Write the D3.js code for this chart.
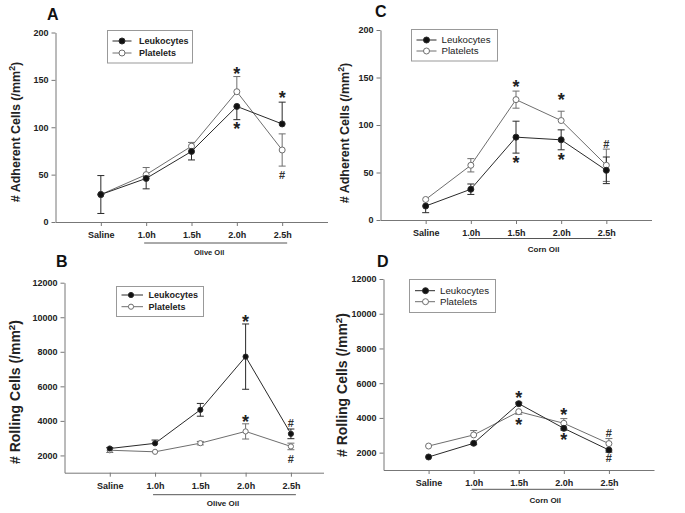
<!DOCTYPE html>
<html>
<head>
<meta charset="utf-8">
<script src="https://cdn.jsdelivr.net/npm/d3@7"></script>
<style>
  html, body { margin: 0; padding: 0; background: #fff; }
  svg { display: block; }
  text { font-family: "Liberation Sans", Arial, sans-serif; }
</style>
</head>
<body>
<svg id="chart" width="685" height="513"></svg>
<script>
// ---------------- DATA ----------------
const categories = ["Saline", "1.0h", "1.5h", "2.0h", "2.5h"];
const seriesNames = ["Leukocytes", "Platelets"];
const adherentTicks = [0, 50, 100, 150, 200];
const rollingTicks = [2000, 4000, 6000, 8000, 10000, 12000];

// Panel A: adherent cells, olive oil
const A_leuk = [29, 46, 74.5, 122, 103.5];
const A_leukErr = [20, 11, 9, 14, 23];
const A_leukDir = [0, -1, -1, -1, 1];
const A_plat = [29, 50, 80, 137.5, 76];
const A_platErr = [0, 7.5, 4, 16, 17];
const A_platDir = [0, 1, 1, 1, 0];
const A_marks = [[3, 161, "*"], [3, 102.5, "*"], [4, 135, "*"], [4, 49.6, "#"]];

// Panel B: rolling cells, olive oil
const B_leuk = [2400, 2700, 4640, 7720, 3250];
const B_leukErr = [60, 190, 370, 1890, 280];
const B_leukDir = [1, 1, 0, 0, 0];
const B_plat = [2300, 2210, 2710, 3390, 2520];
const B_platErr = [130, 0, 100, 440, 190];
const B_platDir = [-1, 0, 0, 0, 0];
const B_marks = [[3, 10000, "*"], [3, 4200, "*"], [4, 3870, "#"], [4, 1790, "#"]];

// Panel C: adherent cells, corn oil
const C_leuk = [14.7, 32.4, 87.2, 84.4, 52.3];
const C_leukErr = [7, 5.5, 16.8, 10.5, 14];
const C_leukDir = [-1, 0, 0, 0, 0];
const C_plat = [21.6, 57.6, 126.7, 104.7, 57.6];
const C_platErr = [0, 7, 9, 9.8, 17];
const C_platDir = [0, 0, 0, 1, 0];
const C_marks = [[2, 145, "*"], [2, 64.5, "*"], [3, 131, "*"], [3, 67.3, "*"], [4, 80.3, "#"]];

// Panel D: rolling cells, corn oil
const D_leuk = [1750, 2540, 4820, 3400, 2150];
const D_leukErr = [0, 80, 80, 100, 120];
const D_leukDir = [0, -1, 1, -1, -1];
const D_plat = [2380, 3020, 4360, 3690, 2520];
const D_platErr = [0, 250, 150, 270, 290];
const D_platDir = [0, 1, -1, 1, 1];
const D_marks = [[2, 5400, "*"], [2, 3820, "*"], [3, 4440, "*"], [3, 2960, "*"], [4, 3150, "#"], [4, 1710, "#"]];

// ---------------- LAYOUT ----------------
const svg = d3.select("#chart");
const LEUK_COLOR = "#2a2a2a";
const PLAT_COLOR = "#6e6e6e";
const AXIS_COLOR = "#777";

const panels = [
  { id: "A", group: "Olive Oil", ytitle: "# Adherent Cells (/mm", yTitleSize: 12.5, ticks: adherentTicks, yDom: [0, 200],
    x0: 55.5, x1: 327.5, xDomMax: 5, yBottom: 222, yTop: 32.5,
    leuk: A_leuk, leukErr: A_leukErr, leukDir: A_leukDir, plat: A_plat, platErr: A_platErr, platDir: A_platDir, marks: A_marks,
    letter: [47, 20], ytitlePos: [20, 132], underlineDy: 21, groupDy: 33, groupDx: -5, groupSize: 7.5,
    legend: { x: 107.5, y: 30.5, w: 85, h: 32.5, r1: 41, r2: 53, lx0: 112.5, lx1: 131.5, mx: 122, tx: 139, size: 9, bold: true }, r: 3 },
  { id: "B", group: "Olive Oil", ytitle: "# Rolling Cells (/mm", yTitleSize: 14, ticks: rollingTicks, yDom: [1000, 12000],
    x0: 64.5, x1: 323.5, xDomMax: 4.72, yBottom: 472.7, yTop: 282.7,
    leuk: B_leuk, leukErr: B_leukErr, leukDir: B_leukDir, plat: B_plat, platErr: B_platErr, platDir: B_platDir, marks: B_marks,
    letter: [56, 267], ytitlePos: [20, 392], underlineDy: 22, groupDy: 33.5, groupDx: 0, groupSize: 8,
    legend: { x: 116.5, y: 286.5, w: 87, h: 30, r1: 295, r2: 306.7, lx0: 121.5, lx1: 143, mx: 131, tx: 148.5, size: 9, bold: true }, r: 2.6 },
  { id: "C", group: "Corn Oil", ytitle: "# Adherent Cells (/mm", yTitleSize: 12.5, ticks: adherentTicks, yDom: [0, 200],
    x0: 380.5, x1: 651.5, xDomMax: 5, yBottom: 220, yTop: 30,
    leuk: C_leuk, leukErr: C_leukErr, leukDir: C_leukDir, plat: C_plat, platErr: C_platErr, platDir: C_platDir, marks: C_marks,
    letter: [375, 17], ytitlePos: [349, 133], underlineDy: 18.5, groupDy: 31.5, groupDx: 5, groupSize: 8,
    legend: { x: 411.5, y: 29.5, w: 86, h: 31.5, r1: 40, r2: 51, lx0: 416.5, lx1: 436.5, mx: 426.5, tx: 441.5, size: 9.7, bold: false }, r: 3 },
  { id: "D", group: "Corn Oil", ytitle: "# Rolling Cells (/mm", yTitleSize: 14, ticks: rollingTicks, yDom: [1000, 12000],
    x0: 383.5, x1: 654, xDomMax: 5, yBottom: 470, yTop: 279,
    leuk: D_leuk, leukErr: D_leukErr, leukDir: D_leukDir, plat: D_plat, platErr: D_platErr, platDir: D_platDir, marks: D_marks,
    letter: [377, 267], ytitlePos: [347, 385], underlineDy: 19.3, groupDy: 32.5, groupDx: 4, groupSize: 8,
    legend: { x: 409.5, y: 279.5, w: 86, h: 33, r1: 290.7, r2: 301.7, lx0: 415, lx1: 435, mx: 425.5, tx: 440, size: 9.7, bold: false }, r: 3 }
];

function drawPanel(p) {
  const g = svg.append("g");
  const x = d3.scaleLinear().domain([-1, p.xDomMax]).range([p.x0, p.x1]);
  const y = d3.scaleLinear().domain(p.yDom).range([p.yBottom, p.yTop]);

  // Y axis
  const yAx = g.append("g").attr("transform", `translate(${p.x0},0)`)
    .call(d3.axisLeft(y).tickValues(p.ticks).tickSize(4).tickSizeOuter(0).tickPadding(3).tickFormat(d3.format("d")));
  yAx.selectAll("path, line").attr("stroke", AXIS_COLOR);
  yAx.selectAll("text").attr("font-size", 9).attr("font-weight", "bold").attr("fill", "#222")
    .attr("font-family", "Liberation Sans, Arial, sans-serif");

  // X axis
  const xAx = g.append("g").attr("transform", `translate(0,${p.yBottom})`)
    .call(d3.axisBottom(x).tickValues(d3.range(categories.length)).tickFormat(i => categories[i])
      .tickSize(4).tickSizeOuter(0).tickPadding(5.5));
  xAx.selectAll("path, line").attr("stroke", AXIS_COLOR);
  xAx.selectAll("text").attr("font-size", 9).attr("font-weight", "bold").attr("fill", "#222")
    .attr("font-family", "Liberation Sans, Arial, sans-serif");

  // underline for treatment group
  g.append("line")
    .attr("x1", x(1) - 2).attr("x2", x(categories.length - 1) + 5)
    .attr("y1", p.yBottom + p.underlineDy).attr("y2", p.yBottom + p.underlineDy)
    .attr("stroke", "#555").attr("stroke-width", 1);
  g.append("text")
    .attr("x", (x(1) + x(categories.length - 1)) / 2 + p.groupDx)
    .attr("y", p.yBottom + p.groupDy)
    .attr("text-anchor", "middle").attr("font-size", p.groupSize).attr("font-weight", "bold").attr("fill", "#222")
    .text(p.group);

  // Y title
  const yt = g.append("text")
    .attr("transform", `translate(${p.ytitlePos[0]},${p.ytitlePos[1]}) rotate(-90)`)
    .attr("text-anchor", "middle").attr("font-size", p.yTitleSize).attr("font-weight", "bold").attr("fill", "#222");
  yt.append("tspan").text(p.ytitle);
  yt.append("tspan").attr("baseline-shift", "super").attr("font-size", p.yTitleSize * 0.7).text("2");
  yt.append("tspan").text(")");

  // Panel letter
  g.append("text").attr("x", p.letter[0]).attr("y", p.letter[1])
    .attr("font-size", 16).attr("font-weight", "bold").attr("fill", "#111").text(p.id);

  const series = [
    { vals: p.plat, err: p.platErr, dir: p.platDir, color: PLAT_COLOR, fill: "#fff" },
    { vals: p.leuk, err: p.leukErr, dir: p.leukDir, color: LEUK_COLOR, fill: "#111" }
  ];
  const line = d3.line().x((d, i) => x(i)).y(d => y(d));

  series.forEach(s => {
    g.append("path").attr("d", line(s.vals)).attr("fill", "none").attr("stroke", s.color).attr("stroke-width", 1);
  });
  series.forEach(s => {
    s.vals.forEach((v, i) => {
      if (!s.err[i]) return;
      const hi = s.dir[i] >= 0 ? v + s.err[i] : v;
      const lo = s.dir[i] <= 0 ? v - s.err[i] : v;
      g.append("line").attr("x1", x(i)).attr("x2", x(i)).attr("y1", y(lo)).attr("y2", y(hi))
        .attr("stroke", s.color).attr("stroke-width", 1);
      if (s.dir[i] >= 0)
        g.append("line").attr("x1", x(i) - 3.5).attr("x2", x(i) + 3.5).attr("y1", y(hi)).attr("y2", y(hi))
          .attr("stroke", s.color).attr("stroke-width", 1);
      if (s.dir[i] <= 0)
        g.append("line").attr("x1", x(i) - 3.5).attr("x2", x(i) + 3.5).attr("y1", y(lo)).attr("y2", y(lo))
          .attr("stroke", s.color).attr("stroke-width", 1);
    });
  });
  series.forEach(s => {
    g.selectAll(null).data(s.vals).enter().append("circle")
      .attr("cx", (d, i) => x(i)).attr("cy", d => y(d)).attr("r", p.r)
      .attr("fill", s.fill).attr("stroke", s.color).attr("stroke-width", 1);
  });

  // significance marks
  p.marks.forEach(([i, v, sym]) => {
    if (sym === "*") {
      g.append("text").attr("x", x(i)).attr("y", y(v) + 10.4).attr("text-anchor", "middle")
        .attr("font-size", 18).attr("font-weight", "bold").attr("fill", "#222").text("*");
    } else {
      g.append("text").attr("x", x(i)).attr("y", y(v) + 4).attr("text-anchor", "middle")
        .attr("font-size", 11).attr("font-weight", "bold").attr("fill", "#333").text("#");
    }
  });

  // Legend
  const L = p.legend;
  g.append("rect").attr("x", L.x).attr("y", L.y).attr("width", L.w).attr("height", L.h)
    .attr("fill", "#fff").attr("stroke", "#999").attr("stroke-width", 1);
  [[seriesNames[0], L.r1, LEUK_COLOR, "#111"], [seriesNames[1], L.r2, PLAT_COLOR, "#fff"]].forEach(([name, ry, col, fill]) => {
    g.append("line").attr("x1", L.lx0).attr("x2", L.lx1).attr("y1", ry).attr("y2", ry)
      .attr("stroke", col).attr("stroke-width", 1);
    g.append("circle").attr("cx", L.mx).attr("cy", ry).attr("r", p.r).attr("fill", fill).attr("stroke", col);
    g.append("text").attr("x", L.tx).attr("y", ry + L.size * 0.36).attr("font-size", L.size)
      .attr("font-weight", L.bold ? "bold" : "normal").attr("fill", "#222").text(name);
  });
}

panels.forEach(drawPanel);
</script>
</body>
</html>
